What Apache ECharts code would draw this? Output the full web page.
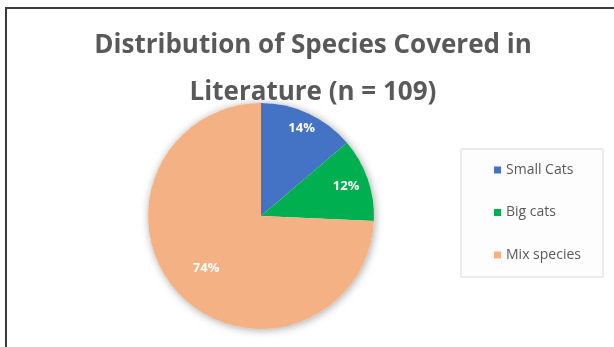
<!DOCTYPE html>
<html>
<head>
<meta charset="utf-8">
<script src="https://cdn.jsdelivr.net/npm/echarts@6/dist/echarts.min.js"></script>
<style>
html,body{margin:0;padding:0;background:#fff;}
#chart{width:614px;height:347px;}
</style>
</head>
<body>
<div id="chart"></div>
<script>
// ---- data ----
const categories = ['Small Cats', 'Big cats', 'Mix species'];
const counts = [15, 13, 81];           // n = 109
const colors = ['#4472C4', '#00B050', '#F4B183'];
const titleLines = ['Distribution of Species Covered in', 'Literature (n = 109)'];

// ---- layout ----
const CENTER = [261, 216];
const R = 113;
const labelRadius = [94, 87, 73];

const chart = echarts.init(document.getElementById('chart'));

function pieData(showIdx) {
  return categories.map((c, i) => ({
    name: c,
    value: counts[i],
    label: { show: showIdx === undefined ? false : showIdx === i }
  }));
}

const labelStyle = {
  position: 'inside',
  formatter: '{d}%',
  color: '#ffffff',
  fontFamily: 'Open Sans',
  fontWeight: 'bold',
  fontSize: 13
};

const series = [
  {
    type: 'pie', silent: true, center: CENTER, radius: [0, R], z: 1,
    label: { show: false }, labelLine: { show: false },
    itemStyle: { color: '#ffffff', shadowBlur: 9, shadowColor: 'rgba(0,0,0,0.35)', shadowOffsetX: 1, shadowOffsetY: 1 },
    data: [{ name: 'base', value: counts.reduce((a, b) => a + b, 0) }]
  },
  {
    type: 'pie', name: 'Species', center: CENTER, radius: [0, R], z: 2,
    startAngle: 90, clockwise: true, percentPrecision: 0,
    label: { show: false }, labelLine: { show: false },
    itemStyle: { borderWidth: 0 },
    color: colors,
    data: pieData()
  }
];
labelRadius.forEach((d, i) => {
  series.push({
    type: 'pie', silent: true, center: CENTER, radius: [2 * d - R, R], z: 3,
    startAngle: 90, clockwise: true, percentPrecision: 0,
    itemStyle: { color: 'rgba(0,0,0,0)', borderWidth: 0 },
    label: labelStyle, labelLine: { show: false },
    data: pieData(i)
  });
});

chart.setOption({
  animation: false,
  backgroundColor: '#ffffff',
  color: colors,
  title: {
    text: titleLines.join('\n'),
    left: 308, top: 17, textAlign: 'center',
    textStyle: {
      fontFamily: 'Open Sans', fontWeight: 'bold', fontSize: 26,
      color: '#595959', lineHeight: 47
    }
  },
  legend: {
    orient: 'vertical',
    left: 461, top: 149,
    data: categories,
    icon: 'rect', itemWidth: 7, itemHeight: 7, itemGap: 28.5,
    padding: [14, 17, 15, 33],
    backgroundColor: '#fdfdfd',
    borderColor: '#d9d9d9', borderWidth: 1,
    selectedMode: false,
    textStyle: { fontFamily: 'Open Sans', fontSize: 14, color: '#595959', lineHeight: 14, width: 80 }
  },
  graphic: [{
    type: 'rect', z: -1, silent: true,
    shape: { x: 6, y: 8, width: 700, height: 400 },
    style: { fill: 'none', stroke: '#3a3a3a', lineWidth: 2 }
  }],
  series: series
});
</script>
</body>
</html>
